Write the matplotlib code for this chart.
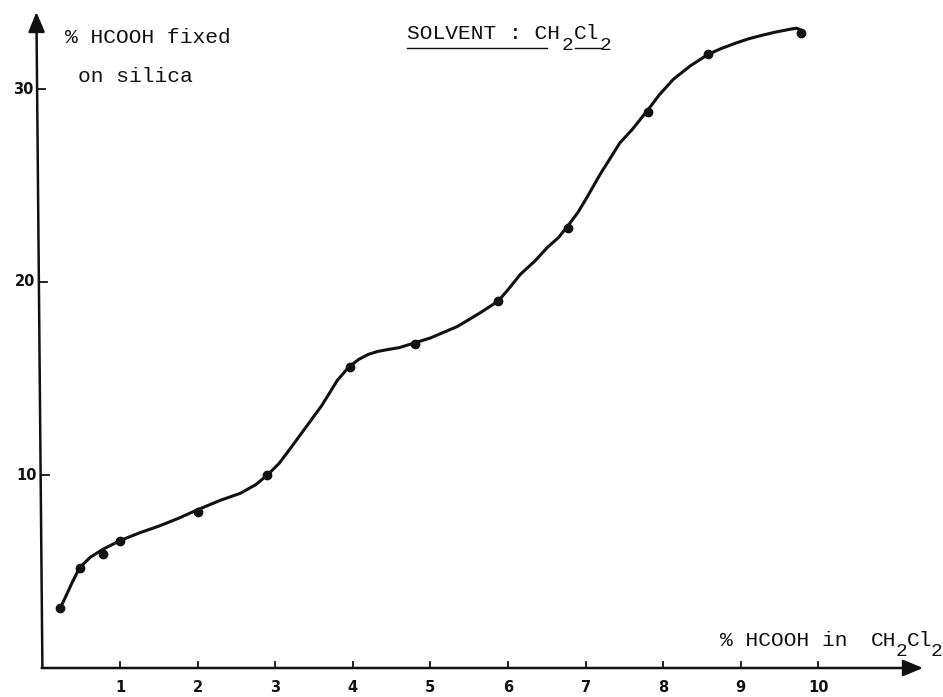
import matplotlib
matplotlib.use('Agg')
import matplotlib.pyplot as plt
from matplotlib.lines import Line2D

W, H = 943, 697

# measured points: % HCOOH in CH2Cl2 -> % HCOOH fixed on silica
conc = [0.23, 0.48, 0.78, 1.0, 2.0, 2.89, 3.96, 4.80, 5.87, 6.77, 7.80, 8.58, 9.77]
fixed = [3.1, 5.2, 5.9, 6.6, 8.1, 10.0, 15.6, 16.8, 19.0, 22.8, 28.8, 31.8, 32.9]

# hand drawn curve
curve_x = [0.23, 0.30, 0.38, 0.48, 0.62, 0.78, 1.0, 1.25, 1.5, 1.75, 2.0, 2.3,
           2.55, 2.75, 2.9, 3.05, 3.2, 3.4, 3.6, 3.8, 3.95, 4.08, 4.2, 4.32,
           4.45, 4.6, 4.8, 5.0, 5.35, 5.64, 5.87, 6.0, 6.16, 6.35, 6.51, 6.65,
           6.77, 6.9, 7.02, 7.19, 7.3, 7.44, 7.6, 7.8, 7.95, 8.13, 8.35, 8.58,
           8.75, 8.95, 9.1, 9.29, 9.45, 9.64, 9.72, 9.78, 9.80]
curve_y = [3.1, 3.7, 4.4, 5.2, 5.75, 6.15, 6.6, 7.0, 7.35, 7.75, 8.2, 8.7,
           9.05, 9.5, 10.0, 10.6, 11.4, 12.5, 13.6, 14.9, 15.6, 16.0, 16.25, 16.4,
           16.5, 16.6, 16.85, 17.1, 17.7, 18.4, 19.0, 19.6, 20.4, 21.1, 21.8, 22.3,
           22.9, 23.6, 24.4, 25.6, 26.3, 27.2, 27.9, 28.9, 29.7, 30.5, 31.2, 31.8,
           32.1, 32.4, 32.6, 32.8, 32.95, 33.1, 33.15, 33.05, 32.85]

x_ticks = [1, 2, 3, 4, 5, 6, 7, 8, 9, 10]
y_ticks = [10, 20, 30]

# where the origin sits on the page and how many pixels per unit
X0_PX, X_PX = 42.4, 77.6
Y0_PX, Y_PX = 668.0, 19.3

TYPE = 'Liberation Mono'
INK = '#111111'
FS = 15.3      # typewriter size
FS_SUB = 14.0  # subscripts are nearly full size on the typewriter


def page(px, py):
    # page pixel -> figure fraction
    return px / W, 1 - py / H


def type_line(fig, pieces):
    # pieces: (text, left px, baseline px, size)
    for s, px, py, fs in pieces:
        fig.text(*page(px, py), s, family=TYPE, fontsize=fs, color=INK,
                 va='baseline')


def draw_axes(ax):
    x_end = (923 - X0_PX) / X_PX
    y_end = (Y0_PX - 12) / Y_PX
    tilt = -6 / X_PX   # the y axis leans a little to the left
    head = dict(arrowstyle='-|>,head_length=0.6,head_width=0.25',
                color=INK, lw=1.8, mutation_scale=20, shrinkA=0, shrinkB=0)
    ax.annotate('', xy=(x_end, 0), xytext=(-0.01, 0), arrowprops=head)
    ax.annotate('', xy=(tilt, y_end), xytext=(0, 0), arrowprops=head)

    dy = 6 / Y_PX
    for t in x_ticks:
        ax.plot([t, t], [0, dy], color=INK, lw=1.3)
        ax.text(t, -20 / Y_PX, str(t), ha='center', va='center',
                fontsize=10.5, fontweight='bold', color=INK)
    for t in y_ticks:
        xa = tilt * t / y_end
        ax.plot([xa, xa + 8 / X_PX], [t, t], color=INK, lw=1.3)
        ax.text(xa - 4 / X_PX, t, str(t), ha='right', va='center',
                fontsize=10.5, fontweight='bold', color=INK)


def draw_labels(fig):
    type_line(fig, [('% HCOOH fixed', 65, 43, FS),
                    ('on silica', 78, 82, FS)])
    # title with its underlines
    type_line(fig, [('SOLVENT : CH', 407, 39, FS),
                    ('2', 562, 50, FS_SUB),
                    ('Cl', 574, 39, FS),
                    ('2', 600, 50, FS_SUB)])
    for a, b in [(407, 547), (575, 601)]:
        (x1, y1), (x2, y2) = page(a, 48), page(b, 48)
        fig.add_artist(Line2D([x1, x2], [y1, y2], color=INK, lw=1.0,
                              transform=fig.transFigure))
    # x axis name
    type_line(fig, [('% HCOOH in', 720, 646, FS),
                    ('CH', 871, 646, FS),
                    ('2', 896, 656, FS_SUB),
                    ('Cl', 907, 646, FS),
                    ('2', 931, 656, FS_SUB)])


def make_plot():
    fig = plt.figure(figsize=(W / 100, H / 100), dpi=100)
    ax = fig.add_axes([0, 0, 1, 1])
    ax.set_xlim(-X0_PX / X_PX, (W - X0_PX) / X_PX)
    ax.set_ylim((Y0_PX - H) / Y_PX, Y0_PX / Y_PX)
    ax.axis('off')

    draw_axes(ax)
    ax.plot(curve_x, curve_y, color=INK, lw=2.2, solid_capstyle='round',
            solid_joinstyle='round')
    ax.plot(conc, fixed, 'o', color=INK, markersize=6)
    draw_labels(fig)

    fig.savefig('out.png', dpi=100, facecolor='white')


if __name__ == '__main__':
    make_plot()
